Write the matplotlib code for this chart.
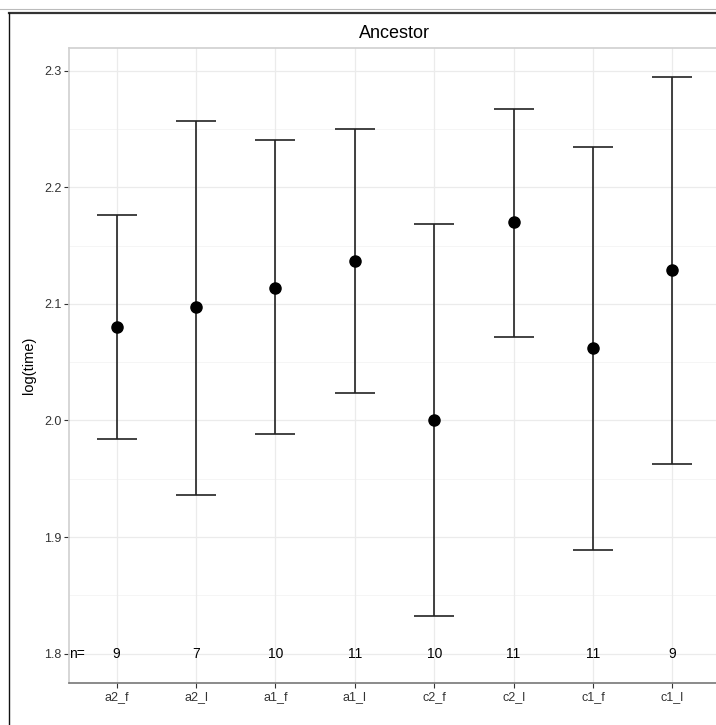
import matplotlib
matplotlib.use("Agg")
import matplotlib.pyplot as plt
from matplotlib.lines import Line2D
import numpy as np

plt.rcParams['font.family'] = ['Liberation Sans', 'DejaVu Sans']

categories = ["a2_f", "a2_l", "a1_f", "a1_l", "c2_f", "c2_l", "c1_f", "c1_l"]
means = [2.080, 2.097, 2.114, 2.137, 2.000, 2.170, 2.062, 2.129]
lower = [1.984, 1.936, 1.988, 2.024, 1.832, 2.072, 1.889, 1.963]
upper = [2.176, 2.257, 2.241, 2.250, 2.169, 2.267, 2.235, 2.295]
counts = [9, 7, 10, 11, 10, 11, 11, 9]
yticks = [1.8, 1.9, 2.0, 2.1, 2.2, 2.3]
yminor = [1.85, 1.95, 2.05, 2.15, 2.25]

W, H = 716, 725
fig = plt.figure(figsize=(W / 100, H / 100), dpi=100)

# outer frame of the screenshot
fig.add_artist(Line2D([0, 1], [1 - 9 / H, 1 - 9 / H], color='#bbbbbb', lw=0.8, transform=fig.transFigure))
fig.add_artist(Line2D([9 / W, 1], [1 - 12.5 / H, 1 - 12.5 / H], color='#333333', lw=1.6, transform=fig.transFigure))
fig.add_artist(Line2D([9 / W, 9 / W], [0, 1 - 12.5 / H], color='#111111', lw=1.0, transform=fig.transFigure))

left, right, top, bottom = 69, 720, 48, 683
ax = fig.add_axes([left / W, 1 - bottom / H, (right - left) / W, (bottom - top) / H])

x = np.arange(1, len(categories) + 1)
ax.set_xlim(0.4, len(categories) + 0.6)
ax.set_ylim(1.7747, 2.3197)

# grid
for yv in yticks:
    ax.axhline(yv, color='#ebebeb', lw=0.9, zorder=0)
for yv in yminor:
    ax.axhline(yv, color='#f5f5f5', lw=0.7, zorder=0)
for xv in x:
    ax.axvline(xv, color='#ebebeb', lw=0.9, zorder=0)

ax.errorbar(x, means, yerr=[np.array(means) - np.array(lower), np.array(upper) - np.array(means)],
            fmt='none', ecolor='#222222', elinewidth=1.2, capsize=14.4, capthick=1.2, zorder=2)
ax.plot(x, means, 'o', color='black', markersize=8, zorder=3)

# n= annotations
ax.text(0.5, 1.8, "n=", ha='center', va='center', fontsize=10, color='black')
for xi, c in zip(x, counts):
    ax.text(xi, 1.8, str(c), ha='center', va='center', fontsize=10, color='black')

ax.set_xticks(x)
ax.set_xticklabels(categories)
ax.set_yticks(yticks)
ax.set_yticklabels([f"{v:.1f}" for v in yticks])
ax.tick_params(axis='both', length=3.5, width=0.8, color='#333333', labelsize=9,
               labelcolor='#333333', pad=2)

for s in ['top', 'left']:
    ax.spines[s].set_color('#d0d0d0')
    ax.spines[s].set_linewidth(1.2)
ax.spines['bottom'].set_color('#777777')
ax.spines['bottom'].set_linewidth(1.2)
ax.spines['right'].set_visible(False)

ax.set_ylabel("log(time)", fontsize=10.5, color='black', labelpad=6)
ax.set_title("Ancestor", fontsize=13, color='black', pad=7)

fig.savefig("out.png", dpi=100)
